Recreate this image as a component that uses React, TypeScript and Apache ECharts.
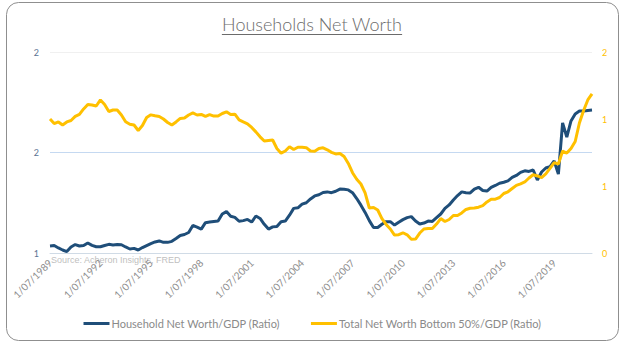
import React, { useEffect, useRef } from "react";
import * as echarts from "echarts";

const seriesNames = ["Household Net Worth/GDP (Ratio)", "Total Net Worth Bottom 50%/GDP (Ratio)"];

// Quarterly dates starting 1/07/1989
const startYear = 1989;
const startMonth = 7;
const quarterCount = 130;
const categories: string[] = [];
for (let i = 0; i < quarterCount; i++) {
  const m0 = startMonth - 1 + 3 * i;
  const y = startYear + Math.floor(m0 / 12);
  const m = (m0 % 12) + 1;
  categories.push(`1/${m < 10 ? "0" + m : m}/${y}`);
}

const householdNW = [
  1.035, 1.037, 1.025, 1.015, 1.007, 1.030, 1.042, 1.035, 1.037, 1.050,
  1.038, 1.031, 1.031, 1.037, 1.043, 1.040, 1.042, 1.041, 1.030, 1.020,
  1.023, 1.015, 1.027, 1.037, 1.047, 1.055, 1.060, 1.053, 1.053, 1.058,
  1.072, 1.087, 1.092, 1.102, 1.137, 1.129, 1.119, 1.151, 1.154, 1.157,
  1.159, 1.194, 1.206, 1.183, 1.177, 1.158, 1.161, 1.167, 1.154, 1.184,
  1.172, 1.143, 1.119, 1.130, 1.132, 1.156, 1.159, 1.188, 1.222, 1.225,
  1.243, 1.250, 1.269, 1.284, 1.290, 1.301, 1.304, 1.300, 1.307, 1.318,
  1.317, 1.314, 1.300, 1.271, 1.238, 1.202, 1.161, 1.127, 1.127, 1.143,
  1.156, 1.156, 1.139, 1.153, 1.166, 1.176, 1.181, 1.159, 1.144, 1.149,
  1.159, 1.157, 1.176, 1.194, 1.222, 1.239, 1.264, 1.286, 1.304, 1.300,
  1.299, 1.318, 1.327, 1.311, 1.308, 1.326, 1.336, 1.347, 1.352, 1.359,
  1.376, 1.386, 1.401, 1.409, 1.406, 1.413, 1.363, 1.403, 1.423, 1.430,
  1.458, 1.393, 1.647, 1.577, 1.657, 1.692, 1.706, 1.706, 1.709, 1.711,
];

const bottom50NW = [
  1.000, 0.966, 0.978, 0.955, 0.978, 0.989, 1.019, 1.034, 1.075, 1.108,
  1.104, 1.097, 1.142, 1.108, 1.056, 1.067, 1.067, 1.030, 0.979, 0.961,
  0.955, 0.914, 0.951, 1.011, 1.031, 1.024, 1.019, 1.000, 0.974, 0.955,
  0.978, 1.004, 1.007, 1.030, 1.045, 1.030, 1.034, 1.019, 1.033, 1.022,
  1.022, 1.041, 1.054, 1.034, 1.036, 0.993, 0.978, 0.964, 0.937, 0.904,
  0.867, 0.836, 0.840, 0.843, 0.780, 0.745, 0.761, 0.793, 0.772, 0.789,
  0.789, 0.786, 0.761, 0.759, 0.780, 0.785, 0.770, 0.751, 0.739, 0.743,
  0.720, 0.668, 0.599, 0.550, 0.515, 0.448, 0.336, 0.340, 0.321, 0.257,
  0.213, 0.179, 0.134, 0.137, 0.151, 0.136, 0.103, 0.104, 0.149, 0.179,
  0.183, 0.183, 0.216, 0.257, 0.235, 0.250, 0.280, 0.280, 0.299, 0.325,
  0.334, 0.336, 0.342, 0.354, 0.381, 0.401, 0.402, 0.414, 0.444, 0.457,
  0.481, 0.505, 0.516, 0.530, 0.560, 0.584, 0.575, 0.563, 0.590, 0.631,
  0.675, 0.664, 0.761, 0.746, 0.780, 0.832, 0.970, 1.063, 1.142, 1.187,
];

const titleText = "Households Net Worth";
const sourceText = "Source: Acheron Insights, FRED";

const W = 625;
const H = 349;

function measure(text: string, font: string): number {
  const c = document.createElement("canvas");
  const ctx = c.getContext("2d");
  if (!ctx) return text.length * 8;
  ctx.font = font;
  return ctx.measureText(text).width;
}

export default function App() {
  const ref = useRef<HTMLDivElement>(null);

  useEffect(() => {
    document.body.style.margin = "0";
    if (!ref.current) return;
    const chart = echarts.init(ref.current, undefined, { renderer: "svg" });

    const titleFont = "Lato";
    const titleSize = 18;
    const tw = measure(titleText, `300 ${titleSize}px ${titleFont}`);
    const cx = 312;

    chart.setOption({
      animation: false,
      backgroundColor: "#ffffff",
      grid: { left: 50, right: 33, top: 52, bottom: 96, containLabel: false },
      legend: {
        data: seriesNames,
        left: "center",
        top: 313,
        icon: "rect",
        itemWidth: 26,
        itemHeight: 3,
        itemGap: 31,
        textStyle: { color: "#8a8a8a", fontSize: 11, fontFamily: "Lato", padding: [0, 0, 0, -3] },
      },
      xAxis: {
        type: "category",
        data: categories,
        boundaryGap: false,
        axisLine: { show: true, lineStyle: { color: "#d0dbe6", width: 1 } },
        axisTick: { show: false },
        axisLabel: {
          interval: 11,
          rotate: 45,
          color: "#8c8c8c",
          fontSize: 10,
          fontFamily: "Lato",
          margin: 8,
        },
        splitLine: { show: false },
      },
      yAxis: [
        {
          type: "value",
          min: 1,
          max: 2,
          interval: 0.5,
          position: "left",
          axisLine: { show: false },
          axisTick: { show: false },
          axisLabel: {
            color: "#5b7393",
            fontSize: 9,
            fontFamily: "Lato",
            margin: 11,
            formatter: (v: number) => String(Math.round(v)),
          },
          splitLine: {
            show: true,
            lineStyle: { color: ["#d0dbe6", "#c5d9f1", "#f0f0f0"], width: 1 },
          },
        },
        {
          type: "value",
          min: 0,
          max: 1.5,
          interval: 0.5,
          position: "right",
          axisLine: { show: false },
          axisTick: { show: false },
          axisLabel: {
            color: "#ffc000",
            fontSize: 9,
            fontFamily: "Lato",
            margin: 10,
            formatter: (v: number) => String(Math.round(v)),
          },
          splitLine: { show: false },
        },
      ],
      series: [
        {
          name: seriesNames[0],
          type: "line",
          yAxisIndex: 0,
          data: householdNW,
          showSymbol: false,
          symbol: "none",
          lineStyle: { color: "#1f4e79", width: 3 },
          itemStyle: { color: "#1f4e79" },
        },
        {
          name: seriesNames[1],
          type: "line",
          yAxisIndex: 1,
          data: bottom50NW,
          showSymbol: false,
          symbol: "none",
          lineStyle: { color: "#ffc000", width: 3 },
          itemStyle: { color: "#ffc000" },
        },
      ],
      graphic: [
        {
          type: "rect",
          shape: { x: 6.5, y: 2.5, width: 612, height: 338, r: 12 },
          style: { fill: "none", stroke: "#8f8f8f", lineWidth: 1 },
          silent: true,
          z: 0,
        },
        {
          type: "text",
          x: cx,
          y: 24,
          style: {
            text: titleText,
            fill: "#6b6b6b",
            font: `300 ${titleSize}px ${titleFont}`,
            align: "center",
            verticalAlign: "middle",
          },
        },
        {
          type: "line",
          shape: { x1: cx - tw / 2, y1: 34.5, x2: cx + tw / 2, y2: 34.5 },
          style: { stroke: "#6b6b6b", lineWidth: 1 },
        },
        {
          type: "text",
          x: 51,
          y: 260,
          style: {
            text: sourceText,
            fill: "#bfbfbf",
            font: "9px 'Liberation Sans', Arial, sans-serif",
            align: "left",
            verticalAlign: "middle",
          },
        },
      ],
    });

    return () => {
      chart.dispose();
    };
  }, []);

  return <div ref={ref} style={{ width: W, height: H }} />;
}
